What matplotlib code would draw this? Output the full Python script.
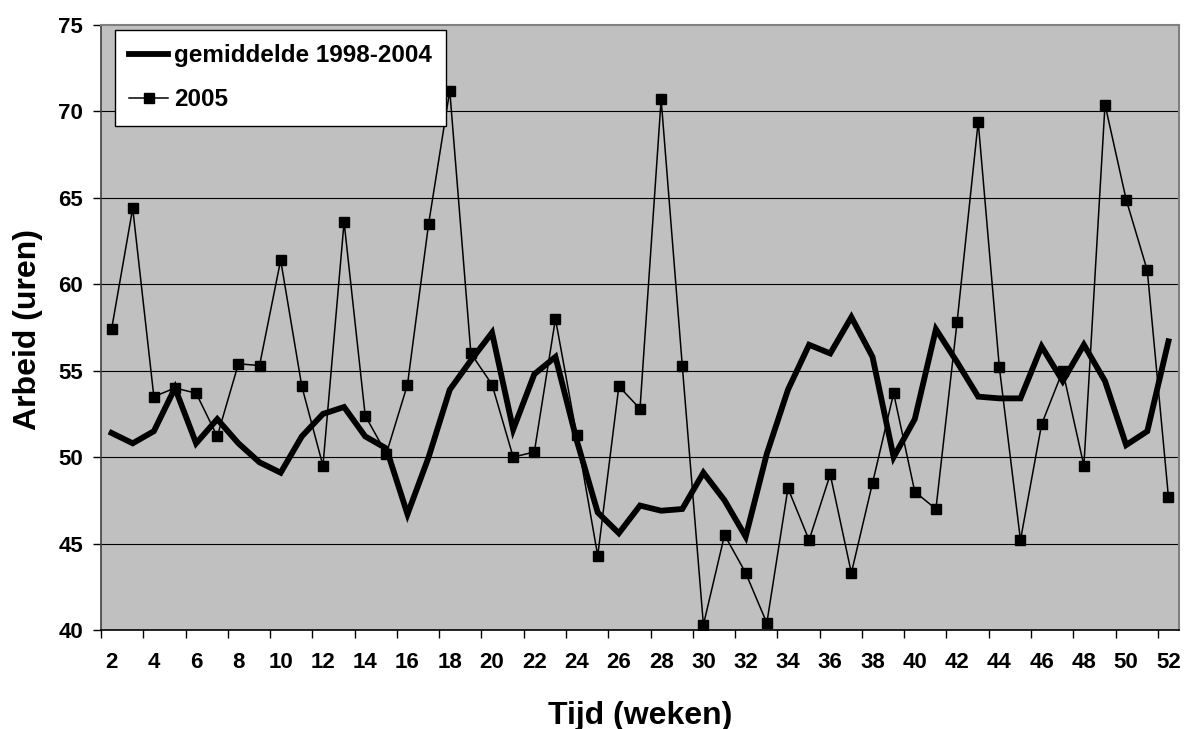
import matplotlib
matplotlib.use("Agg")
import matplotlib.pyplot as plt
import numpy as np

weeks = list(range(2, 53))
gemiddelde = [51.4, 50.8, 51.5, 54.0, 50.8, 52.2, 50.8, 49.7, 49.1, 51.2,
              52.5, 52.9, 51.2, 50.5, 46.7, 50.0, 53.9, 55.6, 57.2, 51.6,
              54.8, 55.8, 51.0, 46.8, 45.6, 47.2, 46.9, 47.0, 49.1, 47.5,
              45.4, 50.2, 53.9, 56.5, 56.0, 58.1, 55.8, 50.0, 52.2, 57.4,
              55.5, 53.5, 53.4, 53.4, 56.4, 54.4, 56.5, 54.4, 50.7, 51.5,
              56.7]
jaar2005 = [57.4, 64.4, 53.5, 54.0, 53.7, 51.2, 55.4, 55.3, 61.4, 54.1,
            49.5, 63.6, 52.4, 50.2, 54.2, 63.5, 71.2, 56.0, 54.2, 50.0,
            50.3, 58.0, 51.3, 44.3, 54.1, 52.8, 70.7, 55.3, 40.3, 45.5,
            43.3, 40.4, 48.2, 45.2, 49.0, 43.3, 48.5, 53.7, 48.0, 47.0,
            57.8, 69.4, 55.2, 45.2, 51.9, 55.0, 49.5, 70.4, 64.9, 60.8,
            47.7]
labels = ["gemiddelde 1998-2004", "2005"]
xlabel = "Tijd (weken)"
ylabel = "Arbeid (uren)"

plt.rcParams['font.family'] = ['Liberation Sans', 'DejaVu Sans']
plt.rcParams['font.weight'] = 'bold'

fig = plt.figure(figsize=(11.84, 7.29), dpi=100)
ax = fig.add_axes([101/1184, 1-630/729, (1179-101)/1184, (630-25)/729])
ax.set_facecolor('#C0C0C0')

ax.set_xlim(1.5, 52.5)
ax.set_ylim(40, 75)

for y in range(45, 75, 5):
    ax.axhline(y, color='black', lw=0.8, zorder=1)

ax.plot(weeks, gemiddelde, color='black', lw=4.2, solid_joinstyle='miter',
        label=labels[0], zorder=3)
ax.plot(weeks, jaar2005, color='black', lw=1.1, marker='s', markersize=7.5,
        label=labels[1], zorder=4)

ax.set_yticks(range(40, 76, 5))
ax.tick_params(axis='y', direction='out', length=6, width=1, labelsize=16, pad=7)
ax.set_xticks(np.arange(1.5, 52, 2))
ax.set_xticklabels([])
ax.set_xticks(np.arange(2, 53, 2), minor=True)
ax.set_xticklabels([str(w) for w in range(2, 53, 2)], minor=True)
ax.tick_params(axis='x', which='major', direction='out', length=6, width=1)
ax.tick_params(axis='x', which='minor', length=0, labelsize=16, pad=16)
for lab in ax.get_xticklabels(minor=True) + ax.get_yticklabels():
    lab.set_fontweight('bold')

for s in ['top', 'right']:
    ax.spines[s].set_color('#808080')
    ax.spines[s].set_linewidth(1.5)
ax.spines['left'].set_color('#404040')
ax.spines['left'].set_linewidth(1.2)
ax.spines['bottom'].set_color('black')
ax.spines['bottom'].set_linewidth(1.2)

ax.set_xlabel(xlabel, fontsize=23, fontweight='bold')
ax.set_ylabel(ylabel, fontsize=23, fontweight='bold')
ax.xaxis.set_label_coords(0.5, (630-716)/605)
ax.xaxis.label.set_va('center')
ax.yaxis.set_label_coords((28-101)/1078, (630-330)/605)
ax.yaxis.label.set_va('center')

leg = ax.legend(loc='upper left', bbox_to_anchor=((115-101)/1078, (630-30)/605),
                borderaxespad=0, fancybox=False, framealpha=1, edgecolor='black',
                facecolor='white', prop={'size': 17.5, 'weight': 'bold'},
                handlelength=1.6, handletextpad=0.25, labelspacing=0.88,
                borderpad=0.58, markerscale=1.0)
leg.get_frame().set_linewidth(1.0)
leg.set_zorder(10)

fig.savefig('out.png', dpi=100)
